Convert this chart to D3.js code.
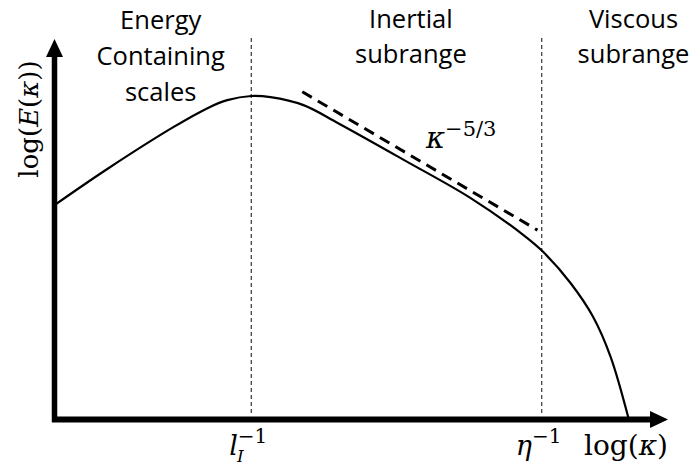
<!DOCTYPE html>
<html>
<head>
<meta charset="utf-8">
<script src="https://cdn.jsdelivr.net/npm/d3@7"></script>
<style>
  html, body { margin: 0; padding: 0; background: #fff; }
  svg { display: block; }
</style>
</head>
<body>
<svg id="chart" width="692" height="468"></svg>
<script>
// ---- data (arbitrary log-log units) ----
const spectrumX = [0, 8.8, 19.8, 25.5, 28.8, 32.8, 36, 41.5, 47.2, 58.2, 69.3, 78, 81.3, 86, 89.8, 92.7, 95.7];
const spectrumY = [56.3, 65.8, 76.8, 81.8, 83.9, 85, 84.7, 82.6, 77.9, 68.2, 58.2, 48.6, 44.2, 35.8, 26.8, 16.3, 0];
const slopeX = [41.3, 80.5];
const slopeY = [86.1, 49.7];
const markerX = [32.8, 81.2];          // l_I^-1, eta^-1
const regionNames = [["Energy", "Containing", "scales"], ["Inertial", "subrange"], ["Viscous", "subrange"]];
const regionCenterX = [17.7, 59.4, 96.5];

const svg = d3.select("#chart");
const x = d3.scaleLinear().domain([0, 100]).range([54.5, 654.5]);
const y = d3.scaleLinear().domain([0, 100]).range([419, 39]);

// dotted region separators
svg.selectAll("line.sep").data(markerX).join("line")
  .attr("class", "sep")
  .attr("x1", d => x(d)).attr("x2", d => x(d))
  .attr("y1", 38).attr("y2", 416)
  .attr("stroke", "#444").attr("stroke-width", 1.3)
  .attr("stroke-dasharray", "4,3");

// spectrum curve
const pts = spectrumX.map((d, i) => [d, spectrumY[i]]);
svg.append("path")
  .attr("d", d3.line().x(d => x(d[0])).y(d => y(d[1])).curve(d3.curveCatmullRom.alpha(0.5))(pts))
  .attr("fill", "none").attr("stroke", "#000").attr("stroke-width", 2.2);

// -5/3 slope
svg.append("line")
  .attr("x1", x(slopeX[0])).attr("y1", y(slopeY[0]))
  .attr("x2", x(slopeX[1])).attr("y2", y(slopeY[1]))
  .attr("stroke", "#000").attr("stroke-width", 3)
  .attr("stroke-dasharray", "11,7");

// axes
svg.append("line").attr("x1", x(0)).attr("x2", x(0)).attr("y1", 422).attr("y2", 54)
  .attr("stroke", "#000").attr("stroke-width", 5.5);
svg.append("line").attr("x1", 52).attr("x2", 652).attr("y1", 419.5).attr("y2", 419.5)
  .attr("stroke", "#000").attr("stroke-width", 6);
svg.append("path").attr("d", `M${x(0)},39 L${x(0) - 8.5},57 L${x(0) + 8.5},57 Z`).attr("fill", "#000");
svg.append("path").attr("d", `M668,419.5 L650,411 L650,428 Z`).attr("fill", "#000");

// region labels
const sans = "'Open Sans', sans-serif";
regionNames.forEach((lines, i) => {
  const base = i === 0 ? 29 : 27.5;
  const step = i === 0 ? 36 : 35;
  lines.forEach((t, j) => {
    svg.append("text").attr("x", x(regionCenterX[i])).attr("y", base + j * step)
      .attr("text-anchor", "middle").attr("font-family", sans).attr("font-size", 25.5)
      .attr("fill", "#000").text(t);
  });
});

// math labels
const serif = "'DejaVu Serif', serif";
function mathText(px, py, size) {
  return svg.append("text").attr("x", px).attr("y", py)
    .attr("font-family", serif).attr("font-size", size).attr("fill", "#000");
}

// y label
const yl = svg.append("text")
  .attr("transform", "translate(38,119) rotate(-90)")
  .attr("text-anchor", "middle")
  .attr("font-family", serif).attr("font-size", 26).attr("fill", "#000");
yl.append("tspan").text("log(");
yl.append("tspan").attr("font-style", "italic").text("E");
yl.append("tspan").text("(");
yl.append("tspan").attr("font-style", "italic").text("κ");
yl.append("tspan").text("))");

// x label
const xl = mathText(668, 455, 28).attr("text-anchor", "end");
xl.append("tspan").text("log(");
xl.append("tspan").attr("font-style", "italic").text("κ");
xl.append("tspan").text(")");

// l_I^-1
const l1 = mathText(x(markerX[0]) - 22, 455, 27);
l1.append("tspan").attr("font-style", "italic").text("l");
l1.append("tspan").attr("font-style", "italic").attr("font-size", 17).attr("dy", 7).attr("dx", -1).text("I");
l1.append("tspan").attr("font-size", 20).attr("dy", -19).attr("dx", -6).text("−1");

// eta^-1
const e1 = mathText(x(markerX[1]) - 26, 455, 27);
e1.append("tspan").attr("font-style", "italic").text("η");
e1.append("tspan").attr("font-size", 20).attr("dy", -12).text("−1");

// kappa^-5/3
const k1 = mathText(426, 148, 29);
k1.append("tspan").attr("font-style", "italic").text("κ");
k1.append("tspan").attr("font-size", 21).attr("dy", -12).text("−5/3");
</script>
</body>
</html>
